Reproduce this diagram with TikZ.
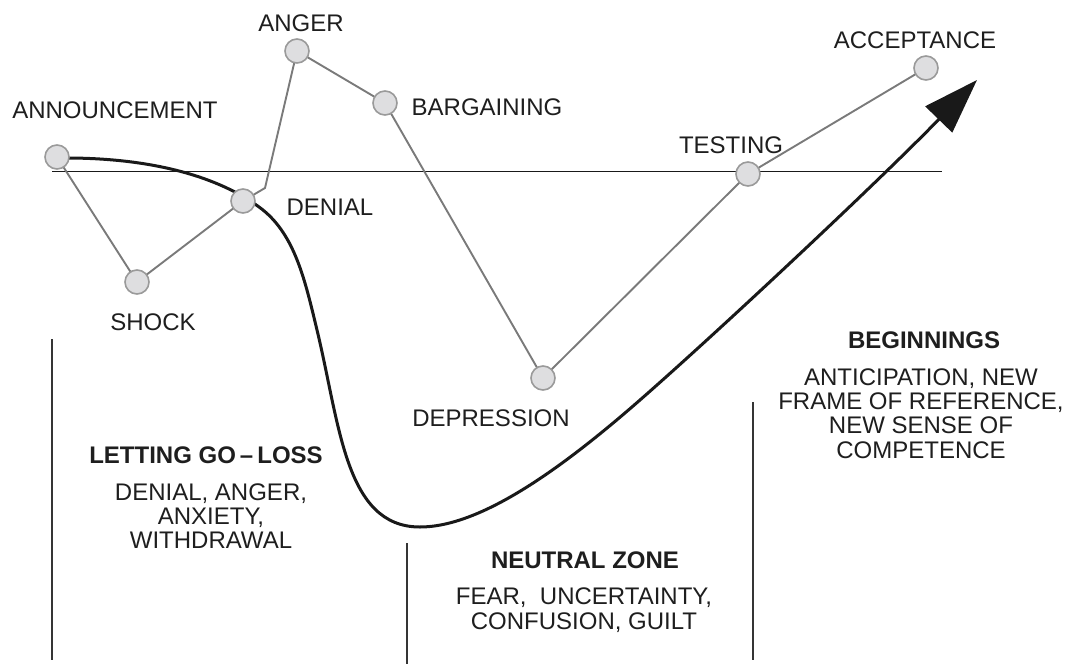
\documentclass[tikz,border=0pt]{standalone}
\usepackage{fontspec}
\setmainfont{Liberation Sans}
\usetikzlibrary{arrows.meta}
\definecolor{linkgray}{HTML}{7A7A7A}
\definecolor{dotfill}{HTML}{DEDEE0}
\definecolor{dotedge}{HTML}{9A9A9A}
\definecolor{inkdark}{HTML}{1E1E1E}
\begin{document}
\begin{tikzpicture}[x=1pt,y=-1pt,
  stage/.style={circle,minimum size=24pt,inner sep=0pt,fill=dotfill,draw=dotedge,line width=1.6pt},
  link/.style={draw=linkgray,line width=1.9pt},
  lbl/.style={font=\fontsize{24}{24}\selectfont,inner sep=0pt,text=inkdark},
  head/.style={font=\fontsize{24}{24}\selectfont\bfseries,inner sep=0pt,text=inkdark},
  body/.style={font=\fontsize{24}{24.3}\selectfont,inner sep=0pt,align=center,text=inkdark},
  divider/.style={draw=inkdark!90,line width=1.8pt},
  journey/.style={draw=black!90,line width=3pt}]
\useasboundingbox (0,0) rectangle (1074,664);

% baseline of the emotional state
\coordinate (baseL) at (52,171.5);
\coordinate (baseR) at (942,171.5);
\draw[draw=black!90,line width=1.6pt] (baseL) -- (baseR);

% stage positions
\coordinate (ann) at (57,157);
\coordinate (shock) at (137,282);
\coordinate (denial) at (243,201);
\coordinate (anger) at (297,51);
\coordinate (barg) at (385,103);
\coordinate (depr) at (543,378);
\coordinate (test) at (748,174);
\coordinate (acc) at (926,68);
\coordinate (kink) at (265,188);

% stage connectors
\path[link] (ann) -- (shock);
\path[link] (shock) -- (denial);
\path[link] (denial) -- (kink) -- (anger);
\path[link] (anger) -- (barg);
\path[link] (barg) -- (depr);
\path[link] (depr) -- (test);
\path[link] (test) -- (acc);

% transition curve
\coordinate (c0) at (66,158);
\coordinate (c1) at (263,210);
\coordinate (c2) at (317,330);
\coordinate (c3) at (420,527);
\coordinate (c4) at (640,400);
\coordinate (c5) at (977,80);
\draw[journey,-{Triangle[length=55pt,width=37pt]}]
  (c0) .. controls (160,158) and (225,180) .. (c1)
       .. controls (295,236) and (305,280) .. (c2)
       .. controls (340,425) and (345,527) .. (c3)
       .. controls (480,527) and (560,470) .. (c4)
       .. controls (720,330) and (880,180) .. (c5);

% stage markers on top of the lines
\node[stage] (annM) at (ann) {};
\node[stage] (shockM) at (shock) {};
\node[stage] (denialM) at (denial) {};
\node[stage] (angerM) at (anger) {};
\node[stage] (bargM) at (barg) {};
\node[stage] (deprM) at (depr) {};
\node[stage] (testM) at (test) {};
\node[stage] (accM) at (acc) {};

% stage labels
\node[lbl] (annL) at (115,110) {ANNOUNCEMENT};
\node[lbl] (shockL) at (153,322) {SHOCK};
\node[lbl] (denialL) at (330,207) {DENIAL};
\node[lbl] (angerL) at (301,23) {ANGER};
\node[lbl] (bargL) at (487,107) {BARGAINING};
\node[lbl] (deprL) at (491,418) {DEPRESSION};
\node[lbl] (testL) at (731,145) {TESTING};
\node[lbl] (accL) at (915,40) {ACCEPTANCE};

% phase dividers
\coordinate (d1a) at (52,339);  \coordinate (d1b) at (52,660);
\coordinate (d2a) at (407,543); \coordinate (d2b) at (407,664);
\coordinate (d3a) at (753,402); \coordinate (d3b) at (753,660);
\draw[divider] (d1a) -- (d1b);
\draw[divider] (d2a) -- (d2b);
\draw[divider] (d3a) -- (d3b);

% phase descriptions
\node[head] (lossH) at (206,455) {LETTING GO\,–\,LOSS};
\node[body] (lossB) at (211,516) {DENIAL, ANGER,\\ANXIETY,\\WITHDRAWAL};
\node[head] (neutH) at (585,560) {NEUTRAL ZONE};
\node[body] (neutB) at (584,610) {FEAR,\ \ UNCERTAINTY,\\CONFUSION, GUILT};
\node[head] (begH) at (924,340) {BEGINNINGS};
\node[body] (begB) at (921,413.5) {ANTICIPATION, NEW\\FRAME OF REFERENCE,\\NEW SENSE OF\\COMPETENCE};
\end{tikzpicture}
\end{document}
